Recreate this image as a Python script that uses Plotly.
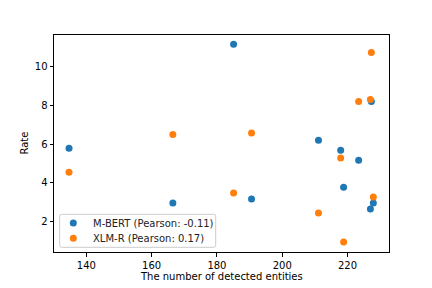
import plotly.graph_objects as go

entities = [134.7, 166.5, 185.1, 190.6, 211.1, 217.9, 218.8, 223.4, 227.0, 227.3, 227.9]
mbert_rate = [5.78, 2.96, 11.14, 3.17, 6.2, 5.68, 3.78, 5.17, 2.65, 8.2, 2.96]
xlmr_rate = [4.55, 6.5, 3.48, 6.57, 2.45, 5.28, 0.95, 8.2, 8.3, 10.72, 3.27]

series_names = ["M-BERT (Pearson: -0.11)", "XLM-R (Pearson: 0.17)"]
colors = ["#1f77b4", "#ff7f0e"]

W, H = 432, 288
ML, MR, MT, MB = 54, 43, 35, 36
PW, PH = W - ML - MR, H - MT - MB


def px(x):
    return (x - ML) / PW


def py(y):
    return (H - MB - y) / PH


fig = go.Figure()
for name, ys, c in zip(series_names, [mbert_rate, xlmr_rate], colors):
    fig.add_trace(go.Scatter(x=entities, y=ys, mode="markers", name=name,
                             marker=dict(color=c, size=7, line=dict(width=0)),
                             showlegend=False))

axis_common = dict(showgrid=False, zeroline=False, showline=True, linecolor="black",
                   linewidth=1, mirror=True, ticks="outside", ticklen=3.5,
                   tickwidth=1, tickcolor="black", automargin=False,
                   tickfont=dict(family="DejaVu Sans", size=10, color="black"))

# legend (box, glyphs, labels) drawn in paper space
bx0, bx1, by0, by1, r = 59.7, 215.7, 214.3, 247.3, 2
X0, X1, Y0, Y1 = px(bx0), px(bx1), py(by1), py(by0)
rx, ry = r / PW, r / PH
path = (f"M {X0+rx},{Y0} L {X1-rx},{Y0} Q {X1},{Y0} {X1},{Y0+ry} "
        f"L {X1},{Y1-ry} Q {X1},{Y1} {X1-rx},{Y1} L {X0+rx},{Y1} "
        f"Q {X0},{Y1} {X0},{Y1-ry} L {X0},{Y0+ry} Q {X0},{Y0} {X0+rx},{Y0} Z")
shapes = [dict(type="path", path=path, xref="paper", yref="paper",
               fillcolor="rgba(255,255,255,0.8)", line=dict(color="#cccccc", width=1),
               layer="above")]
annotations = []
row_y = [223.0, 238.3]
for name, c, yy in zip(series_names, colors, row_y):
    shapes.append(dict(type="circle", xref="paper", yref="paper",
                       xsizemode="pixel", ysizemode="pixel",
                       xanchor=px(73.3), yanchor=py(yy),
                       x0=-3.5, x1=3.5, y0=-3.5, y1=3.5,
                       fillcolor=c, line=dict(width=0), layer="above"))
    annotations.append(dict(text=name, xref="paper", yref="paper",
                            x=px(90.5), y=py(yy), xanchor="left", yanchor="middle",
                            showarrow=False, font=dict(size=10, color="#222222")))

annotations.append(dict(text="The number of detected entities", xref="paper", yref="paper",
                        x=0.5, y=py(276.5), xanchor="center", yanchor="middle",
                        showarrow=False, font=dict(size=10, color="black")))
annotations.append(dict(text="Rate", xref="paper", yref="paper", textangle=-90,
                        x=px(24), y=0.5, xanchor="center", yanchor="middle",
                        showarrow=False, font=dict(size=10, color="black")))

fig.update_layout(
    width=W, height=H,
    margin=dict(l=ML, r=MR, t=MT, b=MB),
    paper_bgcolor="white", plot_bgcolor="white",
    font=dict(family="DejaVu Sans", size=10, color="black"),
    xaxis=dict(range=[130.1, 232.7], tickvals=[140, 160, 180, 200, 220], **axis_common),
    yaxis=dict(range=[0.44, 11.62], tickvals=[2, 4, 6, 8, 10], **axis_common),
    shapes=shapes, annotations=annotations,
    showlegend=False,
)

fig.write_html("out.html", config={"displayModeBar": False},
               post_script="document.body.style.margin='0';document.body.style.overflow='hidden';")
